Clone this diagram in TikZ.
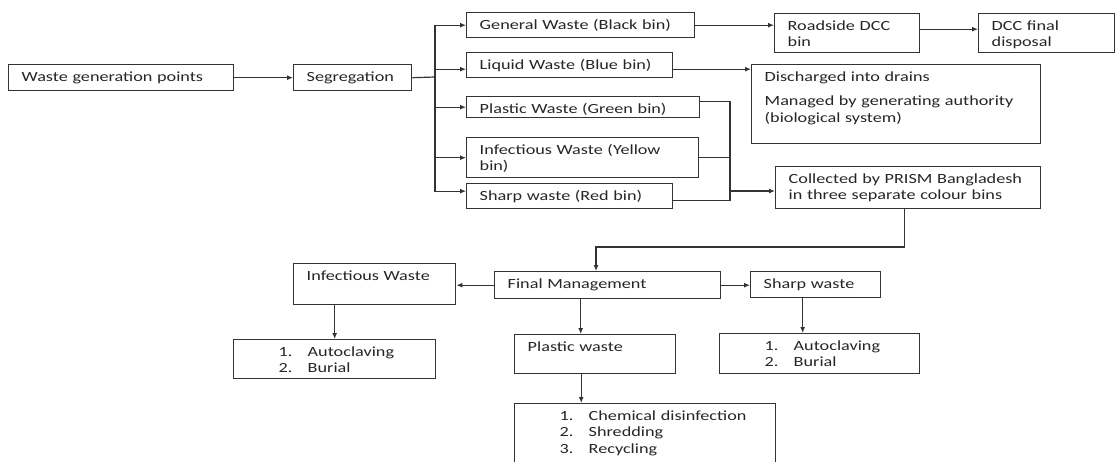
\documentclass[tikz,border=0pt]{standalone}
\usepackage{fontspec}
\setmainfont{Carlito}[FakeStretch=1.3]
\usetikzlibrary{arrows.meta}
\newcommand{\lstitem}[2]{\hspace*{32pt}\makebox[29pt][l]{#1}#2}

\begin{document}
\begin{tikzpicture}[x=1pt, y=-1pt,
    box/.style={draw=black!80, line width=1.4pt, anchor=north west, inner xsep=13pt, inner ysep=0pt,
        text height=16.5pt, align=left, text=black!85, font=\fontsize{14}{16.7}\selectfont},
    link/.style={draw=black!80, line width=1.2pt},
    arr/.style={link, -{Latex[length=6pt,width=5pt]}}]
            \useasboundingbox (0,0) rectangle (1116,461);
            \fill[white] (0,0) rectangle (1116,461);
            \clip (0,0) rectangle (1116,461);

            % Source and segregation
            \node[box, text width=199pt, text depth=9.5pt] (wgp) at (8,64) {Waste generation points};
            \node[box, text width=92pt, text depth=9.5pt] (seg) at (293,64) {Segregation};

            % Colour bins
            \node[box, text width=202pt, text depth=8.5pt] (gen) at (466,12) {General Waste (Black bin)};
            \node[box, text width=180pt, text depth=8.5pt] (liq) at (466,52) {Liquid Waste (Blue bin)};
            \node[box, text width=207pt, text depth=4.5pt] (pla) at (466,96) {Plastic Waste (Green bin)};
            \node[box, text width=206pt, text depth=23.5pt] (inf) at (466,137) {Infectious Waste (Yellow\\bin)};
            \node[box, text width=180pt, text depth=8.5pt] (shp) at (466,183) {Sharp waste (Red bin)};

            % Where the bins go
            \node[box, text width=119pt, text depth=22.5pt] (road) at (774,13) {Roadside DCC\\bin};
            \node[box, text width=110pt, text depth=22.5pt] (dcc) at (978,13) {DCC final\\disposal};
            \node[box, text width=263pt, text depth=62.5pt] (dis) at (751,64)
                {Discharged into drains\\[8pt]Managed by generating authority\\(biological system)};
            \node[box, text width=239pt, text depth=25.5pt] (col) at (775,166)
                {Collected by PRISM Bangladesh\\in three separate colour bins};

            % Final management
            \node[box, text width=200pt, text depth=10.5pt] (fin) at (494,271) {Final Management};
            \node[box, text width=136pt, text depth=24.5pt] (infw) at (293,263) {Infectious Waste};
            \node[box, text width=104pt, text depth=9.5pt] (shw) at (750,271) {Sharp waste};
            \node[box, text width=135pt, text depth=22.5pt] (pw) at (514,334) {Plastic waste};

            % Treatment lists
            \node[box, text width=176pt, text depth=22.5pt] (lst1) at (233,339)
                {\lstitem{1.}{Autoclaving}\\\lstitem{2.}{Burial}};
            \node[box, text width=174pt, text depth=23.5pt] (lst2) at (719,333)
                {\lstitem{1.}{Autoclaving}\\\lstitem{2.}{Burial}};
            \node[box, text width=235pt, text depth=50.5pt] (lst3) at (514,403)
                {\lstitem{1.}{Chemical disinfection}\\\lstitem{2.}{Shredding}\\\lstitem{3.}{Recycling}};

            % Segregation bus
            \coordinate (bus) at (435,77);
            \draw[arr] (wgp.east) -- (seg.west);
            \draw[link] (seg.east) -- (bus);
            \draw[arr] (bus) |- (gen.west);
            \draw[arr] (bus) |- ([yshift=-4pt]liq.west);
            \draw[arr] (bus) |- (pla.west);
            \draw[arr] (bus) |- (inf.west);
            \draw[arr] (bus) |- ([yshift=5pt]shp.west);

            \draw[arr] (gen.east) -- (gen.east -| road.west);
            \draw[arr] ([yshift=4pt]road.east) -- ([yshift=4pt]dcc.west);
            \draw[arr] ([yshift=-4pt]liq.east) -- ([yshift=-4pt]liq.east -| dis.west);

            % Three bins to PRISM
            \coordinate (cb) at (730,191);
            \draw[link] ([yshift=6pt]pla.east) -| (cb);
            \draw[link] (inf.east) -| (cb);
            \draw[link] ([yshift=-4pt]shp.east) -| (cb);
            \draw[arr] (cb) -- (cb -| col.west);

            % Down to final management
            \coordinate (turn) at (596,247);
            \draw[arr] ([xshift=-4pt]col.south) |- (turn) -- (turn |- fin.north);
            \draw[arr] (fin.west) -- (fin.west -| infw.east);
            \draw[arr] (fin.east) -- (fin.east -| shw.west);
            \draw[arr] ([xshift=-27pt]fin.south) -- ([xshift=-27pt]fin.south |- pw.north);
            \draw[arr] ([xshift=-14pt]pw.south) -- ([xshift=-14pt]pw.south |- lst3.north);
            \draw[arr] (lst1.north |- infw.south) -- (lst1.north);
            \draw[arr] ([xshift=-13pt]shw.south) -- ([xshift=-13pt]shw.south |- lst2.north);
        \end{tikzpicture}
\end{document}
